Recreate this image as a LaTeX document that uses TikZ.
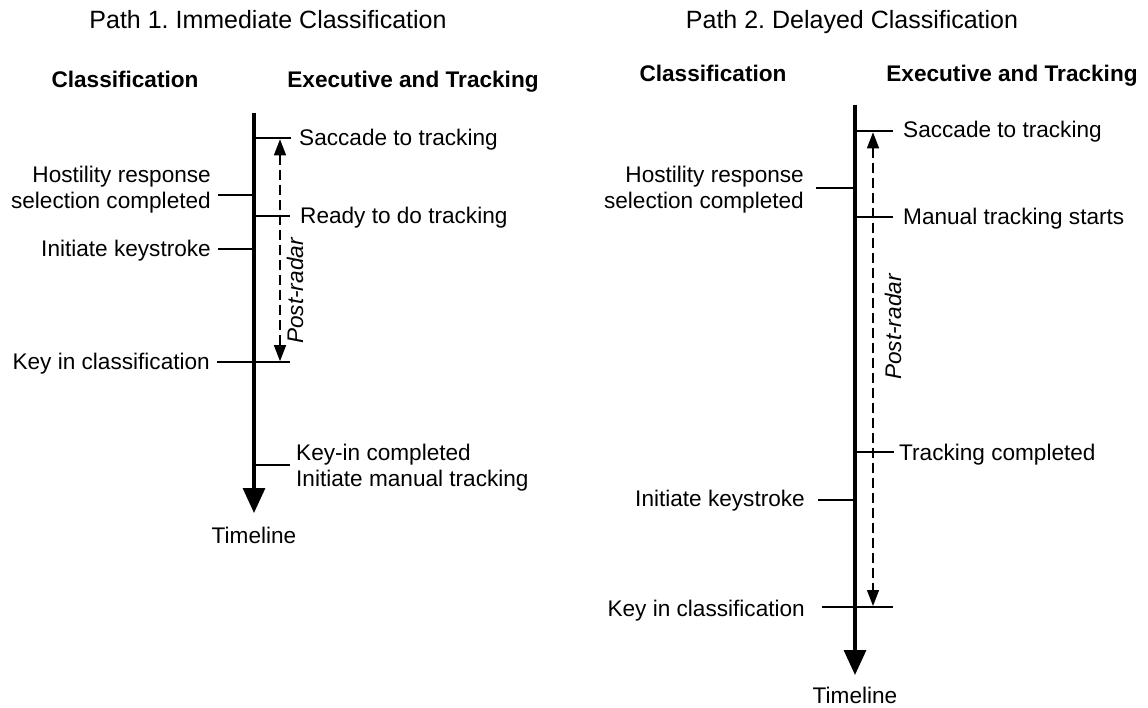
\documentclass[tikz,border=0pt]{standalone}
\usepackage{fontspec}
\setmainfont{Liberation Sans}
\usetikzlibrary{arrows.meta}
\frenchspacing
\begin{document}
\begin{tikzpicture}[x=1pt,y=-1pt,
  lbl/.style={inner sep=0pt, font=\fontsize{22.6}{26}\selectfont},
  hdr/.style={inner sep=0pt, font=\fontsize{22.6}{26}\selectfont\bfseries},
  ttl/.style={inner sep=0pt, font=\fontsize{25}{30}\selectfont},
  rad/.style={inner sep=0pt, font=\fontsize{22.6}{26}\selectfont\itshape, rotate=90, anchor=base},
  axis/.style={line width=3.3pt, -{Triangle[length=25pt,width=22pt]}},
  tickline/.style={line width=1.3pt},
  span/.style={line width=1.3pt, dash pattern=on 10pt off 5pt, {Triangle[length=16pt,width=12pt]}-{Triangle[length=16pt,width=12pt]}},
]
\useasboundingbox (0,0) rectangle (1148,708);

% ---------------- Panel 1 ----------------
\node[ttl, anchor=base] (title1) at (268,29) {Path 1. Immediate Classification};
\node[hdr, anchor=base] (cls1) at (125,88) {Classification};
\node[hdr, anchor=base] (exe1) at (413,88) {Executive and Tracking};

\coordinate (p1top) at (254,113);
\coordinate (p1tip) at (254,513);
\draw[axis] (p1top) -- (p1tip);
\node[lbl, anchor=base] (tl1) at (254,543) {Timeline};

% ticks
\coordinate (a1s) at (254,138); \coordinate (a1e) at (291,138);
\draw[tickline] (a1s) -- (a1e);
\node[lbl, anchor=base west] (sac1) at (299,146) {Saccade to tracking};

\coordinate (b1s) at (218,195); \coordinate (b1e) at (254,195);
\draw[tickline] (b1s) -- (b1e);
\node[lbl, anchor=base east, align=right] (hos1) at (211,209) {Hostility response\\selection completed};

\coordinate (c1s) at (254,216); \coordinate (c1e) at (290,216);
\draw[tickline] (c1s) -- (c1e);
\node[lbl, anchor=base west] (rdy1) at (300,224) {Ready to do tracking};

\coordinate (d1s) at (218,249); \coordinate (d1e) at (254,249);
\draw[tickline] (d1s) -- (d1e);
\node[lbl, anchor=base east] (ini1) at (211,257) {Initiate keystroke};

\coordinate (e1s) at (217,362); \coordinate (e1e) at (290,362);
\draw[tickline] (e1s) -- (e1e);
\node[lbl, anchor=base east] (key1) at (210,370) {Key in classification};

\coordinate (f1s) at (254,465); \coordinate (f1e) at (290,465);
\draw[tickline] (f1s) -- (f1e);
\node[lbl, anchor=base west, align=left] (kic1) at (296,486) {Key-in completed\\Initiate manual tracking};

% post-radar span
\coordinate (g1s) at (280,139.3); \coordinate (g1e) at (280,361.2);
\draw[span] (g1s) -- (g1e);
\node[rad] (pr1) at (303,291) {Post-radar};

% ---------------- Panel 2 ----------------
\node[ttl, anchor=base] (title2) at (852,29) {Path 2. Delayed Classification};
\node[hdr, anchor=base] (cls2) at (713,82) {Classification};
\node[hdr, anchor=base] (exe2) at (1012,82) {Executive and Tracking};

\coordinate (p2top) at (855,105);
\coordinate (p2tip) at (855,675);
\draw[axis] (p2top) -- (p2tip);
\node[lbl, anchor=base] (tl2) at (855,703) {Timeline};

\coordinate (a2s) at (855,131); \coordinate (a2e) at (893,131);
\draw[tickline] (a2s) -- (a2e);
\node[lbl, anchor=base west] (sac2) at (903,138) {Saccade to tracking};

\coordinate (b2s) at (816,188); \coordinate (b2e) at (855,188);
\draw[tickline] (b2s) -- (b2e);
\node[lbl, anchor=base east, align=right] (hos2) at (804,209) {Hostility response\\selection completed};

\coordinate (c2s) at (855,217); \coordinate (c2e) at (893,217);
\draw[tickline] (c2s) -- (c2e);
\node[lbl, anchor=base west] (man2) at (903,225) {Manual tracking starts};

\coordinate (d2s) at (855,452); \coordinate (d2e) at (894,452);
\draw[tickline] (d2s) -- (d2e);
\node[lbl, anchor=base west] (trk2) at (899,460) {Tracking completed};

\coordinate (e2s) at (818,500); \coordinate (e2e) at (855,500);
\draw[tickline] (e2s) -- (e2e);
\node[lbl, anchor=base east] (ini2) at (805,506) {Initiate keystroke};

\coordinate (f2s) at (822,607); \coordinate (f2e) at (893,607);
\draw[tickline] (f2s) -- (f2e);
\node[lbl, anchor=base east] (key2) at (805,616) {Key in classification};

\coordinate (g2s) at (873,132.3); \coordinate (g2e) at (873,606);
\draw[span] (g2s) -- (g2e);
\node[rad] (pr2) at (901,327) {Post-radar};
\end{tikzpicture}
\end{document}
